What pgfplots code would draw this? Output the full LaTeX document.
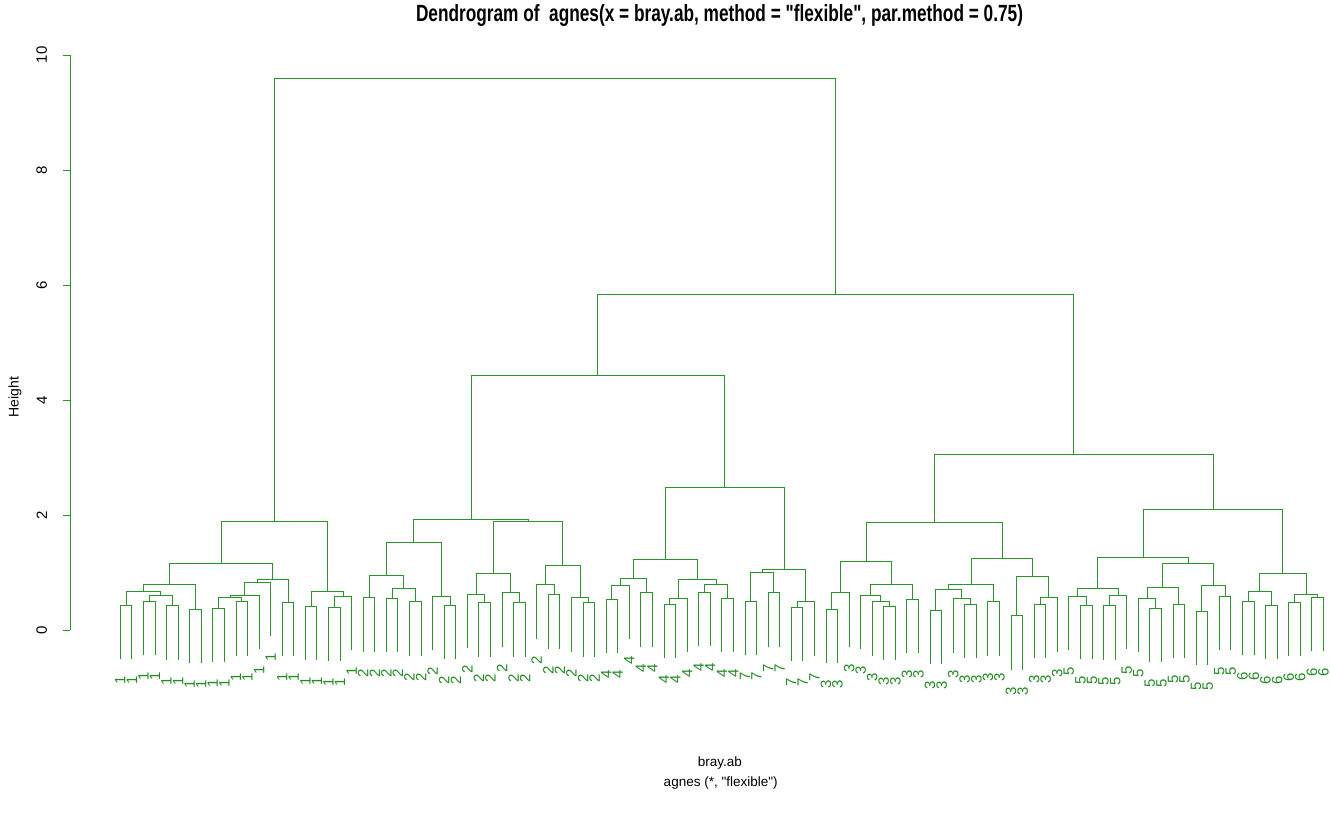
\documentclass[border=0pt]{standalone}
\usepackage{pgfplots}
\usepackage{pgfplotstable}
\pgfplotsset{compat=1.18}
\usepackage{fontspec}
\setmainfont{Liberation Sans}[Ligatures=TeXOff]
\definecolor{dgreen}{RGB}{40,150,40}
\definecolor{lgreen}{RGB}{34,139,34}

\pgfplotstableread{
x y lab
1 -0.505 1
2 -0.505 1
3 -0.436 1
4 -0.436 1
5 -0.517 1
6 -0.517 1
7 -0.575 1
8 -0.575 1
9 -0.563 1
10 -0.563 1
11 -0.447 1
12 -0.447 1
13 -0.337 1
14 -0.110 1
15 -0.458 1
16 -0.458 1
17 -0.523 1
18 -0.523 1
19 -0.545 1
20 -0.545 1
21 -0.354 1
22 -0.378 2
23 -0.378 2
24 -0.389 2
25 -0.389 2
26 -0.447 2
27 -0.447 2
28 -0.349 2
29 -0.510 2
30 -0.510 2
31 -0.320 2
32 -0.465 2
33 -0.465 2
34 -0.291 2
35 -0.465 2
36 -0.465 2
37 -0.152 2
38 -0.326 2
39 -0.326 2
40 -0.378 2
41 -0.465 2
42 -0.465 2
43 -0.407 4
44 -0.407 4
45 -0.163 4
46 -0.291 4
47 -0.291 4
48 -0.493 4
49 -0.493 4
50 -0.389 4
51 -0.284 4
52 -0.284 4
53 -0.389 4
54 -0.389 4
55 -0.436 7
56 -0.436 7
57 -0.291 7
58 -0.291 7
59 -0.545 7
60 -0.545 7
61 -0.447 7
62 -0.575 3
63 -0.575 3
64 -0.291 3
65 -0.337 3
66 -0.447 3
67 -0.523 3
68 -0.523 3
69 -0.407 3
70 -0.407 3
71 -0.598 3
72 -0.598 3
73 -0.395 3
74 -0.493 3
75 -0.493 3
76 -0.447 3
77 -0.447 3
78 -0.691 3
79 -0.691 3
80 -0.493 3
81 -0.493 3
82 -0.378 3
83 -0.349 5
84 -0.505 5
85 -0.505 5
86 -0.517 5
87 -0.517 5
88 -0.337 5
89 -0.389 5
90 -0.563 5
91 -0.563 5
92 -0.493 5
93 -0.493 5
94 -0.615 5
95 -0.615 5
96 -0.349 5
97 -0.349 5
98 -0.441 6
99 -0.441 6
100 -0.505 6
101 -0.505 6
102 -0.458 6
103 -0.458 6
104 -0.371 6
105 -0.371 6
}\leaves

\begin{document}
\begin{tikzpicture}
\useasboundingbox (0,0) rectangle (1330pt,821pt);
\begin{axis}[
  at={(70.3pt,191pt)}, anchor=south west,
  scale only axis, width=1259.7pt, height=575pt,
  xmin=-3.32, xmax=105.57, ymin=0, ymax=10,
  clip=false, unbounded coords=jump,
  axis x line=none, axis y line*=left,
  y axis line style={dgreen, line width=0.8pt},
  ytick={0,2,4,6,8,10}, xtick=\empty,
  tick align=outside, major tick length=7pt,
  ytick style={dgreen, line width=0.8pt},
  /pgf/number format/assume math mode=true,
  yticklabel style={rotate=90, anchor=south, inner sep=0pt, font=\fontsize{15}{15}\selectfont, yshift=16pt},
]
\addplot[dgreen, line width=0.9pt] coordinates {
(1,-.505)(1,.435)(2,.435)(2,-.505) (0,nan)
(3,-.436)(3,.504)(4,.504)(4,-.436) (0,nan)
(5,-.517)(5,.423)(6,.423)(6,-.517) (0,nan)
(3.5,.504)(3.5,.603)(5.5,.603)(5.5,.423) (0,nan)
(1.5,.435)(1.5,.667)(4.5,.667)(4.5,.603) (0,nan)
(7,-.575)(7,.365)(8,.365)(8,-.575) (0,nan)
(3,.667)(3,.795)(7.5,.795)(7.5,.365) (0,nan)
(9,-.563)(9,.377)(10,.377)(10,-.563) (0,nan)
(11,-.447)(11,.493)(12,.493)(12,-.447) (0,nan)
(9.5,.377)(9.5,.562)(11.5,.562)(11.5,.493) (0,nan)
(10.5,.562)(10.5,.603)(13,.603)(13,-.337) (0,nan)
(11.75,.603)(11.75,.83)(14,.83)(14,-.11) (0,nan)
(15,-.458)(15,.482)(16,.482)(16,-.458) (0,nan)
(12.875,.83)(12.875,.875)(15.5,.875)(15.5,.482) (0,nan)
(5.25,.795)(5.25,1.16)(14.1875,1.16)(14.1875,.875) (0,nan)
(17,-.523)(17,.417)(18,.417)(18,-.523) (0,nan)
(19,-.545)(19,.395)(20,.395)(20,-.545) (0,nan)
(19.5,.395)(19.5,.586)(21,.586)(21,-.354) (0,nan)
(17.5,.417)(17.5,.678)(20.25,.678)(20.25,.586) (0,nan)
(9.71875,1.16)(9.71875,1.896)(18.875,1.896)(18.875,.678) (0,nan)
(22,-.378)(22,.562)(23,.562)(23,-.378) (0,nan)
(24,-.389)(24,.551)(25,.551)(25,-.389) (0,nan)
(26,-.447)(26,.493)(27,.493)(27,-.447) (0,nan)
(24.5,.551)(24.5,.73)(26.5,.73)(26.5,.493) (0,nan)
(22.5,.562)(22.5,.945)(25.5,.945)(25.5,.73) (0,nan)
(29,-.51)(29,.43)(30,.43)(30,-.51) (0,nan)
(28,-.349)(28,.591)(29.5,.591)(29.5,.43) (0,nan)
(24,.945)(24,1.525)(28.75,1.525)(28.75,.591) (0,nan)
(32,-.465)(32,.475)(33,.475)(33,-.465) (0,nan)
(31,-.32)(31,.62)(32.5,.62)(32.5,.475) (0,nan)
(35,-.465)(35,.475)(36,.475)(36,-.465) (0,nan)
(34,-.291)(34,.649)(35.5,.649)(35.5,.475) (0,nan)
(31.75,.62)(31.75,.986)(34.75,.986)(34.75,.649) (0,nan)
(38,-.326)(38,.614)(39,.614)(39,-.326) (0,nan)
(37,-.152)(37,.788)(38.5,.788)(38.5,.614) (0,nan)
(41,-.465)(41,.475)(42,.475)(42,-.465) (0,nan)
(40,-.378)(40,.562)(41.5,.562)(41.5,.475) (0,nan)
(37.75,.788)(37.75,1.118)(40.75,1.118)(40.75,.562) (0,nan)
(33.25,.986)(33.25,1.883)(39.25,1.883)(39.25,1.118) (0,nan)
(26.375,1.525)(26.375,1.925)(36.25,1.925)(36.25,1.883) (0,nan)
(43,-.407)(43,.533)(44,.533)(44,-.407) (0,nan)
(43.5,.533)(43.5,.777)(45,.777)(45,-.163) (0,nan)
(46,-.291)(46,.649)(47,.649)(47,-.291) (0,nan)
(44.25,.777)(44.25,.893)(46.5,.893)(46.5,.649) (0,nan)
(48,-.493)(48,.447)(49,.447)(49,-.493) (0,nan)
(48.5,.447)(48.5,.551)(50,.551)(50,-.389) (0,nan)
(51,-.284)(51,.656)(52,.656)(52,-.284) (0,nan)
(53,-.389)(53,.551)(54,.551)(54,-.389) (0,nan)
(51.5,.656)(51.5,.788)(53.5,.788)(53.5,.551) (0,nan)
(49.25,.551)(49.25,.882)(52.5,.882)(52.5,.788) (0,nan)
(45.375,.893)(45.375,1.229)(50.875,1.229)(50.875,.882) (0,nan)
(55,-.436)(55,.504)(56,.504)(56,-.436) (0,nan)
(57,-.291)(57,.649)(58,.649)(58,-.291) (0,nan)
(55.5,.504)(55.5,1.003)(57.5,1.003)(57.5,.649) (0,nan)
(59,-.545)(59,.395)(60,.395)(60,-.545) (0,nan)
(59.5,.395)(59.5,.493)(61,.493)(61,-.447) (0,nan)
(56.5,1.003)(56.5,1.056)(60.25,1.056)(60.25,.493) (0,nan)
(48.125,1.229)(48.125,2.482)(58.375,2.482)(58.375,1.056) (0,nan)
(31.3125,1.925)(31.3125,4.435)(53.25,4.435)(53.25,2.482) (0,nan)
(62,-.575)(62,.365)(63,.365)(63,-.575) (0,nan)
(62.5,.365)(62.5,.649)(64,.649)(64,-.291) (0,nan)
(67,-.523)(67,.417)(68,.417)(68,-.523) (0,nan)
(66,-.447)(66,.493)(67.5,.493)(67.5,.417) (0,nan)
(65,-.337)(65,.603)(66.75,.603)(66.75,.493) (0,nan)
(69,-.407)(69,.533)(70,.533)(70,-.407) (0,nan)
(65.875,.603)(65.875,.788)(69.5,.788)(69.5,.533) (0,nan)
(63.25,.649)(63.25,1.188)(67.6875,1.188)(67.6875,.788) (0,nan)
(71,-.598)(71,.342)(72,.342)(72,-.598) (0,nan)
(74,-.493)(74,.447)(75,.447)(75,-.493) (0,nan)
(73,-.395)(73,.545)(74.5,.545)(74.5,.447) (0,nan)
(71.5,.342)(71.5,.707)(73.75,.707)(73.75,.545) (0,nan)
(76,-.447)(76,.493)(77,.493)(77,-.447) (0,nan)
(72.625,.707)(72.625,.788)(76.5,.788)(76.5,.493) (0,nan)
(78,-.691)(78,.249)(79,.249)(79,-.691) (0,nan)
(80,-.493)(80,.447)(81,.447)(81,-.493) (0,nan)
(80.5,.447)(80.5,.562)(82,.562)(82,-.378) (0,nan)
(78.5,.249)(78.5,.927)(81.25,.927)(81.25,.562) (0,nan)
(74.5625,.788)(74.5625,1.247)(79.875,1.247)(79.875,.927) (0,nan)
(65.46875,1.188)(65.46875,1.866)(77.21875,1.866)(77.21875,1.247) (0,nan)
(84,-.505)(84,.435)(85,.435)(85,-.505) (0,nan)
(83,-.349)(83,.591)(84.5,.591)(84.5,.435) (0,nan)
(86,-.517)(86,.423)(87,.423)(87,-.517) (0,nan)
(86.5,.423)(86.5,.603)(88,.603)(88,-.337) (0,nan)
(83.75,.591)(83.75,.718)(87.25,.718)(87.25,.603) (0,nan)
(90,-.563)(90,.377)(91,.377)(91,-.563) (0,nan)
(89,-.389)(89,.551)(90.5,.551)(90.5,.377) (0,nan)
(92,-.493)(92,.447)(93,.447)(93,-.493) (0,nan)
(89.75,.551)(89.75,.736)(92.5,.736)(92.5,.447) (0,nan)
(94,-.615)(94,.325)(95,.325)(95,-.615) (0,nan)
(96,-.349)(96,.591)(97,.591)(97,-.349) (0,nan)
(94.5,.325)(94.5,.777)(96.5,.777)(96.5,.591) (0,nan)
(91.125,.736)(91.125,1.16)(95.5,1.16)(95.5,.777) (0,nan)
(85.5,.718)(85.5,1.27)(93.3125,1.27)(93.3125,1.16) (0,nan)
(98,-.441)(98,.499)(99,.499)(99,-.441) (0,nan)
(100,-.505)(100,.435)(101,.435)(101,-.505) (0,nan)
(98.5,.499)(98.5,.678)(100.5,.678)(100.5,.435) (0,nan)
(102,-.458)(102,.482)(103,.482)(103,-.458) (0,nan)
(104,-.371)(104,.569)(105,.569)(105,-.371) (0,nan)
(102.5,.482)(102.5,.626)(104.5,.626)(104.5,.569) (0,nan)
(99.5,.678)(99.5,.986)(103.5,.986)(103.5,.626) (0,nan)
(89.40625,1.27)(89.40625,2.093)(101.5,2.093)(101.5,.986) (0,nan)
(71.34375,1.866)(71.34375,3.061)(95.453125,3.061)(95.453125,2.093) (0,nan)
(42.28125,4.435)(42.28125,5.843)(83.3984,5.843)(83.3984,3.061) (0,nan)
(14.296875,1.896)(14.296875,9.6)(62.8398,9.6)(62.8398,5.843)
};
\addplot[draw=none, mark=none, nodes near coords, point meta=explicit symbolic,
  every node near coord/.append style={rotate=90, anchor=east, inner xsep=17pt, inner ysep=0pt,
    font=\fontsize{15}{15}\selectfont, text=lgreen}]
  table[x=x, y=y, meta=lab] {\leaves};
\node[font=\fontsize{14}{14}\selectfont, rotate=90] at (axis cs:-8.1,4.05) {Height};
\node[font=\fontsize{13.5}{13.5}\selectfont] at (axis cs:52.84,-2.313) {bray.ab};
\node[font=\fontsize{13.5}{13.5}\selectfont] at (axis cs:52.9,-2.66) {agnes (*, "flexible")};
\node at (axis cs:52.8,10.68) {\resizebox{607pt}{17pt}{\bfseries Dendrogram of~ agnes(x = bray.ab, method = "flexible", par.method = 0.75)}};
\end{axis}
\end{tikzpicture}
\end{document}
